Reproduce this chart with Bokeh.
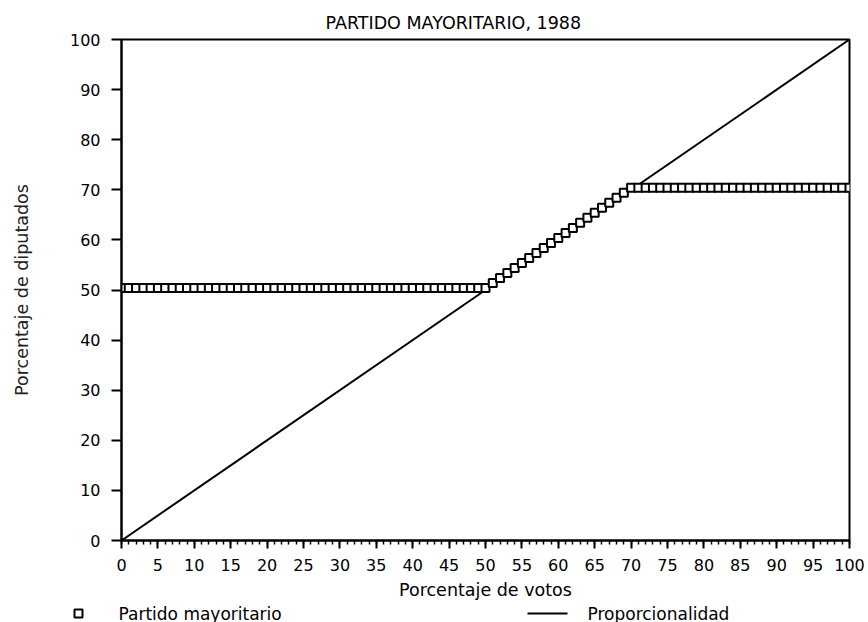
from bokeh.plotting import figure
from bokeh.models import Range1d, SingleIntervalTicker
from bokeh.core.properties import value
from bokeh.embed import file_html
from bokeh.resources import INLINE

# Porcentaje de votos (x) and Porcentaje de diputados (y) for the majority party
votes = [0, 1, 2, 3, 4, 5, 6, 7, 8, 9, 10, 11, 12, 13, 14, 15, 16, 17, 18, 19,
         20, 21, 22, 23, 24, 25, 26, 27, 28, 29, 30, 31, 32, 33, 34, 35, 36, 37, 38, 39,
         40, 41, 42, 43, 44, 45, 46, 47, 48, 49, 50, 51, 52, 53, 54, 55, 56, 57, 58, 59,
         60, 61, 62, 63, 64, 65, 66, 67, 68, 69, 70, 71, 72, 73, 74, 75, 76, 77, 78, 79,
         80, 81, 82, 83, 84, 85, 86, 87, 88, 89, 90, 91, 92, 93, 94, 95, 96, 97, 98, 99, 100]
seats = [50.4, 50.4, 50.4, 50.4, 50.4, 50.4, 50.4, 50.4, 50.4, 50.4,
         50.4, 50.4, 50.4, 50.4, 50.4, 50.4, 50.4, 50.4, 50.4, 50.4,
         50.4, 50.4, 50.4, 50.4, 50.4, 50.4, 50.4, 50.4, 50.4, 50.4,
         50.4, 50.4, 50.4, 50.4, 50.4, 50.4, 50.4, 50.4, 50.4, 50.4,
         50.4, 50.4, 50.4, 50.4, 50.4, 50.4, 50.4, 50.4, 50.4, 50.4, 50.4,
         51.4, 52.4, 53.4, 54.4, 55.4, 56.4, 57.4, 58.4, 59.4,
         60.4, 61.4, 62.4, 63.4, 64.4, 65.4, 66.4, 67.4, 68.4, 69.4,
         70.4, 70.4, 70.4, 70.4, 70.4, 70.4, 70.4, 70.4, 70.4, 70.4,
         70.4, 70.4, 70.4, 70.4, 70.4, 70.4, 70.4, 70.4, 70.4, 70.4,
         70.4, 70.4, 70.4, 70.4, 70.4, 70.4, 70.4, 70.4, 70.4, 70.4, 70.4]
# Proporcionalidad (reference line)
prop_x = [0, 100]
prop_y = [0, 100]
# legend labels
legend_labels = ["Partido mayoritario", "Proporcionalidad"]

FONT = "DejaVu Sans"
W = 868
H_MAIN = 604
H_LEG = 18

p = figure(width=W, height=H_MAIN, output_backend="svg", toolbar_location=None,
           x_range=Range1d(0, 100), y_range=Range1d(0, 100),
           min_border_left=121, min_border_right=19, min_border_top=39,
           min_border_bottom=64)

p.background_fill_color = "white"
p.border_fill_color = "white"
p.grid.visible = False
p.outline_line_color = "black"
p.outline_line_width = 2

p.title.text = "PARTIDO MAYORITARIO, 1988"
p.title.align = "left"
p.title.offset = 204
p.title.text_font = FONT
p.title.text_font_size = "17.5px"
p.title.text_font_style = "normal"
p.title.text_color = "black"
p.title.standoff = 14

# x axis
xa = p.xaxis[0]
xa.ticker = SingleIntervalTicker(interval=5, num_minor_ticks=5)
xa.axis_line_color = "black"
xa.axis_line_width = 2
xa.major_tick_in = 0
xa.major_tick_out = 8
xa.major_tick_line_width = 2
xa.minor_tick_in = 0
xa.minor_tick_out = 4
xa.minor_tick_line_width = 1.5
xa.minor_tick_line_color = "black"
xa.major_label_text_font = FONT
xa.major_label_text_font_size = "16px"
xa.major_label_text_color = "black"
xa.major_label_standoff = 10
xa.axis_label = "Porcentaje de votos"
xa.axis_label_text_font = FONT
xa.axis_label_text_font_size = "17.5px"
xa.axis_label_text_font_style = "normal"
xa.axis_label_text_color = "black"
xa.axis_label_standoff = 6

# y axis
ya = p.yaxis[0]
ya.ticker = SingleIntervalTicker(interval=10, num_minor_ticks=0)
ya.axis_line_color = "black"
ya.axis_line_width = 2
ya.major_tick_in = 0
ya.major_tick_out = 10
ya.major_tick_line_width = 2
ya.minor_tick_line_color = None
ya.major_label_text_font = FONT
ya.major_label_text_font_size = "16px"
ya.major_label_text_color = "black"
ya.major_label_standoff = 11
ya.axis_label = "Porcentaje de diputados"
ya.axis_label_text_font = FONT
ya.axis_label_text_font_size = "17.5px"
ya.axis_label_text_font_style = "normal"
ya.axis_label_text_color = "#222222"
ya.axis_label_standoff = 35

p.line(prop_x, prop_y, line_color="black", line_width=2)
p.scatter(votes, seats, marker="square", size=8, line_color="black",
          line_width=2, fill_color="white")

# legend strip below the chart (range in pixels of the strip)
lf = figure(width=W, height=H_LEG, output_backend="svg", toolbar_location=None,
            x_range=Range1d(0, W), y_range=Range1d(0, H_LEG),
            x_axis_location=None, y_axis_location=None,
            min_border_left=0, min_border_right=0, min_border_top=0,
            min_border_bottom=0)
lf.grid.visible = False
lf.outline_line_color = None
lf.background_fill_color = "white"
lf.border_fill_color = "white"
mid = H_LEG / 2
lf.scatter([78], [mid], marker="square", size=8, line_color="black",
           line_width=2, fill_color="white")
lf.line([527, 567], [mid, mid], line_color="black", line_width=2)
lf.text(x=[118, 587], y=[mid, mid], text=legend_labels,
        text_font=value(FONT), text_font_size="17px", text_color="black",
        text_baseline="middle", text_align="left")

open("out.html", "w").write(file_html([p, lf], INLINE))
